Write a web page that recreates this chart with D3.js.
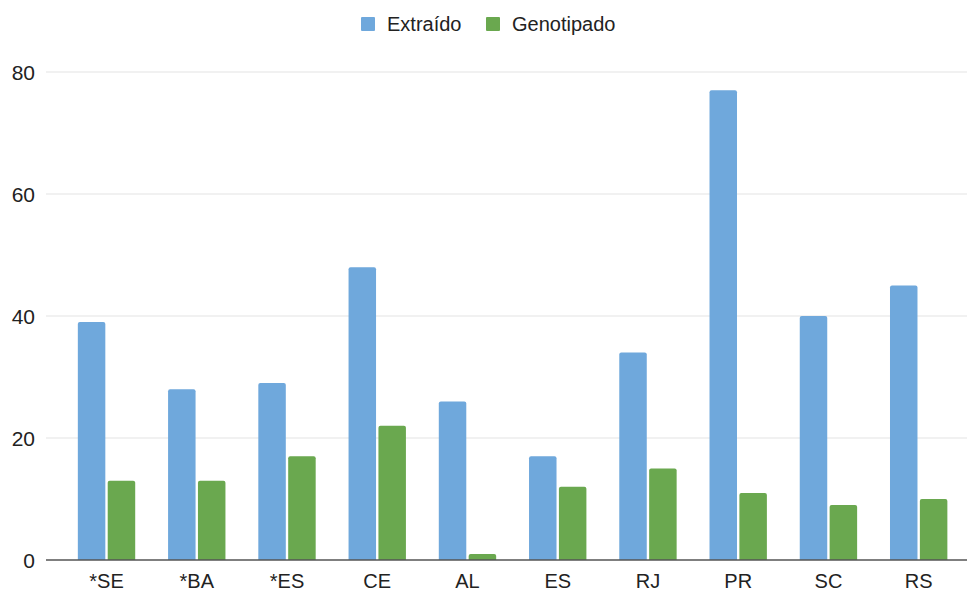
<!DOCTYPE html>
<html>
<head>
<meta charset="utf-8">
<script src="https://cdn.jsdelivr.net/npm/d3@7"></script>
<style>
  html, body { margin: 0; padding: 0; background: #ffffff; }
  svg { display: block; font-family: "Liberation Sans", Arial, sans-serif; }
</style>
</head>
<body>
<svg id="chart" width="967" height="592"></svg>
<script>
// Samples per state
const categories = ["*SE", "*BA", "*ES", "CE", "AL", "ES", "RJ", "PR", "SC", "RS"];
const extraido   = [39, 28, 29, 48, 26, 17, 34, 77, 40, 45];
const genotipado = [13, 13, 17, 22, 1, 12, 15, 11, 9, 10];
const seriesNames = ["Extraído", "Genotipado"];
const seriesColors = ["#6fa8dc", "#6aa84f"];
const yTicks = [0, 20, 40, 60, 80];

const svg = d3.select("#chart");
const plot = { left: 46, right: 967, top: 72, bottom: 560 };

const x0 = d3.scaleBand().domain(categories).range([61.4, 963.8]).padding(0);
const x1 = d3.scaleBand().domain(seriesNames)
  .range([0, x0.bandwidth()]).paddingInner(0.08).paddingOuter(0.55);
const y = d3.scaleLinear().domain([0, 80]).range([plot.bottom, plot.top]);

// Gridlines
svg.append("g")
  .selectAll("line")
  .data(yTicks.filter(d => d !== 0))
  .join("line")
  .attr("x1", plot.left).attr("x2", plot.right)
  .attr("y1", d => y(d)).attr("y2", d => y(d))
  .attr("stroke", "#e3e3e3").attr("stroke-width", 1.2);

// Y axis labels
const yAxis = d3.axisLeft(y).tickValues(yTicks).tickSize(0).tickPadding(0);
svg.append("g")
  .attr("transform", "translate(35,0)")
  .call(yAxis)
  .call(g => g.select(".domain").remove())
  .call(g => g.selectAll("text")
    .attr("font-size", 21).attr("fill", "#222")
    .attr("font-family", "Liberation Sans, Arial, sans-serif")
    .attr("dy", "0.36em"));

// Bars with slightly rounded top corners
function topRounded(xp, yp, w, h, r) {
  r = Math.min(r, h, w / 2);
  return `M${xp},${yp + h}V${yp + r}Q${xp},${yp} ${xp + r},${yp}` +
         `H${xp + w - r}Q${xp + w},${yp} ${xp + w},${yp + r}V${yp + h}Z`;
}

const rows = categories.map((c, i) => ({ cat: c, vals: [extraido[i], genotipado[i]] }));
const groups = svg.append("g").selectAll("g")
  .data(rows).join("g")
  .attr("transform", d => `translate(${x0(d.cat)},0)`);

groups.selectAll("path")
  .data(d => d.vals.map((v, k) => ({ name: seriesNames[k], v, k })))
  .join("path")
  .attr("d", d => topRounded(x1(d.name), y(d.v), x1.bandwidth(), y(0) - y(d.v), 2))
  .attr("fill", d => seriesColors[d.k]);

// Baseline
svg.append("line")
  .attr("x1", plot.left).attr("x2", plot.right)
  .attr("y1", y(0)).attr("y2", y(0))
  .attr("stroke", "#555").attr("stroke-width", 1.5);

// X axis labels
const xAxis = d3.axisBottom(x0).tickSize(0).tickPadding(0);
svg.append("g")
  .attr("transform", `translate(0,${y(0)})`)
  .call(xAxis)
  .call(g => g.select(".domain").remove())
  .call(g => g.selectAll("text")
    .attr("font-size", 20).attr("fill", "#222")
    .attr("font-family", "Liberation Sans, Arial, sans-serif")
    .attr("dy", null)
    .attr("y", 27.5));

// Legend
const legend = svg.append("g");
const legendItems = [
  { name: seriesNames[0], color: seriesColors[0], x: 361 },
  { name: seriesNames[1], color: seriesColors[1], x: 486 }
];
legendItems.forEach(it => {
  legend.append("rect")
    .attr("x", it.x).attr("y", 17).attr("width", 14).attr("height", 14)
    .attr("rx", 1).attr("fill", it.color);
  legend.append("text")
    .attr("x", it.x + 26).attr("y", 31)
    .attr("font-size", 20).attr("fill", "#222")
    .text(it.name);
});
</script>
</body>
</html>
